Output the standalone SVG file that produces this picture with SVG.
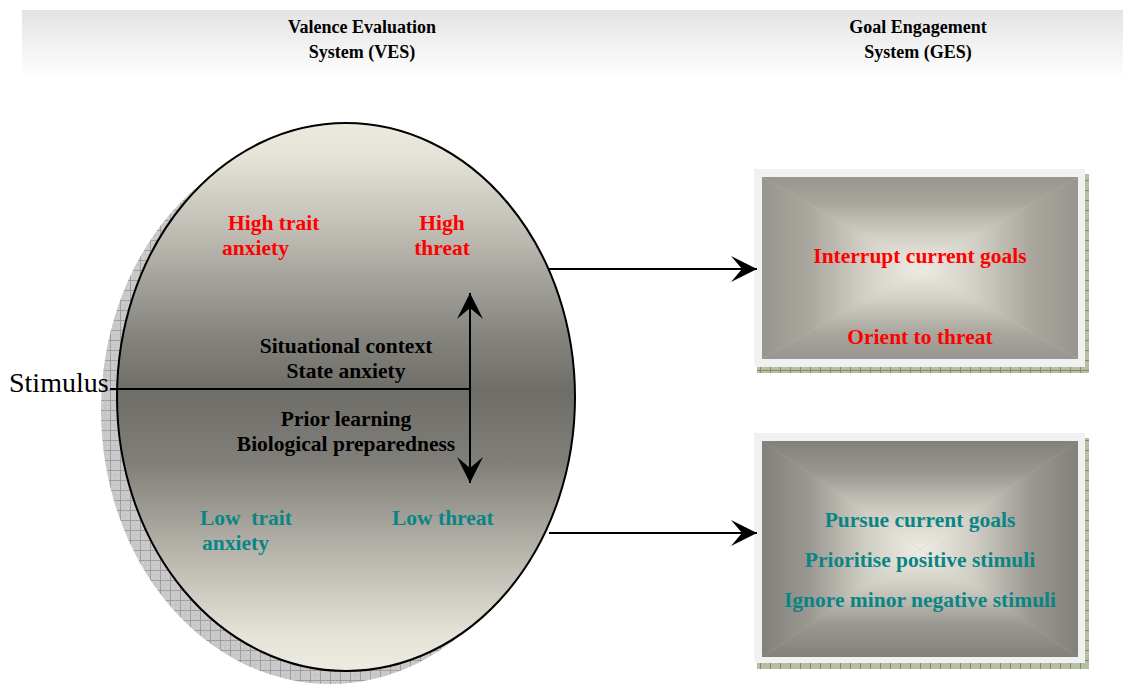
<svg xmlns="http://www.w3.org/2000/svg" width="1123" height="684" viewBox="0 0 1123 684">
<style>
.hdr{font-family:"Liberation Serif","Times New Roman",serif;font-weight:bold;font-size:18px;fill:#000;text-anchor:middle}
.t{font-family:"Liberation Serif","Times New Roman",serif;font-weight:bold;font-size:21.5px}
.red{fill:#ff0000}
.teal{fill:#0a8585}
.blk{fill:#000}
.mid{text-anchor:middle}
.ln{stroke:#000;stroke-width:2;fill:none}
</style>
<defs>
<linearGradient id="band" x1="0" y1="0" x2="0" y2="1">
<stop offset="0" stop-color="#e3e3e3"/>
<stop offset="1" stop-color="#ffffff"/>
</linearGradient>
<linearGradient id="ell" x1="0" y1="0" x2="0" y2="1">
<stop offset="0" stop-color="#eceadf"/>
<stop offset="0.06" stop-color="#e6e4d9"/>
<stop offset="0.23" stop-color="#b5b3aa"/>
<stop offset="0.38" stop-color="#878681"/>
<stop offset="0.49" stop-color="#6e6d68"/>
<stop offset="0.62" stop-color="#807f79"/>
<stop offset="0.77" stop-color="#b2b0a7"/>
<stop offset="0.93" stop-color="#e4e2d7"/>
<stop offset="1" stop-color="#eeece1"/>
</linearGradient>
<pattern id="hatch" width="10" height="10" patternUnits="userSpaceOnUse">
<rect width="10" height="10" fill="#cbcbcb"/>
<path d="M0,0.5H10M0.5,0V10" stroke="#9c9c9c" stroke-width="1"/>
<path d="M5,0V10M0,5H10" stroke="#bdbdbd" stroke-width="0.6"/>
</pattern>
<pattern id="ghatch" width="10" height="10" patternUnits="userSpaceOnUse">
<rect width="10" height="10" fill="#b7bfa2"/>
<path d="M0,0.5H10M0.5,0V10" stroke="#7f8c64" stroke-width="1"/>
</pattern>
<marker id="ah" viewBox="-27 -14 28 28" refX="0" refY="0" markerWidth="28" markerHeight="28" markerUnits="userSpaceOnUse" orient="auto-start-reverse">
<path d="M0,0 L-26,-13 L-15,0 L-26,13 Z" fill="#000"/>
</marker>
<linearGradient id="g1t" gradientUnits="userSpaceOnUse" x1="0" y1="177" x2="0" y2="268">
<stop offset="0" stop-color="#97958d"/><stop offset="0.3" stop-color="#a9a79e"/><stop offset="0.65" stop-color="#d2d0c6"/><stop offset="1" stop-color="#efede3"/>
</linearGradient>
<linearGradient id="g1b" gradientUnits="userSpaceOnUse" x1="0" y1="359" x2="0" y2="268">
<stop offset="0" stop-color="#97958d"/><stop offset="0.3" stop-color="#a9a79e"/><stop offset="0.65" stop-color="#d2d0c6"/><stop offset="1" stop-color="#efede3"/>
</linearGradient>
<linearGradient id="g1l" gradientUnits="userSpaceOnUse" x1="762" y1="0" x2="920" y2="0">
<stop offset="0" stop-color="#97958d"/><stop offset="0.3" stop-color="#a9a79e"/><stop offset="0.65" stop-color="#d2d0c6"/><stop offset="1" stop-color="#efede3"/>
</linearGradient>
<linearGradient id="g1r" gradientUnits="userSpaceOnUse" x1="1078" y1="0" x2="920" y2="0">
<stop offset="0" stop-color="#97958d"/><stop offset="0.3" stop-color="#a9a79e"/><stop offset="0.65" stop-color="#d2d0c6"/><stop offset="1" stop-color="#efede3"/>
</linearGradient>
<linearGradient id="g2t" gradientUnits="userSpaceOnUse" x1="0" y1="441" x2="0" y2="549">
<stop offset="0" stop-color="#81807a"/><stop offset="0.3" stop-color="#9a9891"/><stop offset="0.65" stop-color="#cfcdc3"/><stop offset="1" stop-color="#efede3"/>
</linearGradient>
<linearGradient id="g2b" gradientUnits="userSpaceOnUse" x1="0" y1="657" x2="0" y2="549">
<stop offset="0" stop-color="#81807a"/><stop offset="0.3" stop-color="#9a9891"/><stop offset="0.65" stop-color="#cfcdc3"/><stop offset="1" stop-color="#efede3"/>
</linearGradient>
<linearGradient id="g2l" gradientUnits="userSpaceOnUse" x1="762" y1="0" x2="920" y2="0">
<stop offset="0" stop-color="#81807a"/><stop offset="0.3" stop-color="#9a9891"/><stop offset="0.65" stop-color="#cfcdc3"/><stop offset="1" stop-color="#efede3"/>
</linearGradient>
<linearGradient id="g2r" gradientUnits="userSpaceOnUse" x1="1078" y1="0" x2="920" y2="0">
<stop offset="0" stop-color="#81807a"/><stop offset="0.3" stop-color="#9a9891"/><stop offset="0.65" stop-color="#cfcdc3"/><stop offset="1" stop-color="#efede3"/>
</linearGradient>
</defs>

<rect width="1123" height="684" fill="#ffffff"/>

<g id="header">
<rect x="22" y="10" width="1101" height="68" fill="url(#band)"/>
<text class="hdr" x="362" y="33">Valence Evaluation</text>
<text class="hdr" x="362" y="58">System (VES)</text>
<text class="hdr" x="918" y="33">Goal Engagement</text>
<text class="hdr" x="918" y="58">System (GES)</text>
</g>

<g id="ves">
<ellipse cx="330" cy="410" rx="229" ry="274" fill="url(#hatch)"/>
<ellipse cx="346" cy="397" rx="229" ry="274" fill="url(#ell)" stroke="#000" stroke-width="2"/>
<text class="t red" x="228" y="230">High trait</text>
<text class="t red" x="222" y="255">anxiety</text>
<text class="t red mid" x="442" y="230">High</text>
<text class="t red mid" x="442" y="255">threat</text>
<text class="t blk mid" x="346" y="353">Situational context</text>
<text class="t blk mid" x="346" y="378">State anxiety</text>
<text class="t blk mid" x="346" y="426">Prior learning</text>
<text class="t blk mid" x="346" y="451">Biological preparedness</text>
<text class="t teal" x="200" y="525" xml:space="preserve">Low  trait</text>
<text class="t teal" x="202" y="550">anxiety</text>
<text class="t teal" x="392" y="525">Low threat</text>
</g>

<g id="stimulus">
<text x="9" y="392" font-family="Liberation Serif,'Times New Roman',serif" font-size="28" fill="#000">Stimulus</text>
</g>

<g id="box-threat">
<rect x="757" y="174" width="332" height="199" fill="url(#ghatch)"/>
<rect x="754" y="169" width="331" height="198" fill="#f1f1f1"/>
<rect x="762" y="177" width="316" height="182" fill="#c0beb5"/>
<polygon points="762,177 1078,177 920,268" fill="url(#g1t)"/>
<polygon points="762,359 1078,359 920,268" fill="url(#g1b)"/>
<polygon points="762,177 762,359 920,268" fill="url(#g1l)"/>
<polygon points="1078,177 1078,359 920,268" fill="url(#g1r)"/>
<text class="t red mid" x="920" y="263">Interrupt current goals</text>
<text class="t red mid" x="920" y="344">Orient to threat</text>
</g>

<g id="box-safe">
<rect x="757" y="438" width="332" height="231" fill="url(#ghatch)"/>
<rect x="754" y="433" width="331" height="230" fill="#f1f1f1"/>
<rect x="762" y="441" width="316" height="216" fill="#b8b6ae"/>
<polygon points="762,441 1078,441 920,549" fill="url(#g2t)"/>
<polygon points="762,657 1078,657 920,549" fill="url(#g2b)"/>
<polygon points="762,441 762,657 920,549" fill="url(#g2l)"/>
<polygon points="1078,441 1078,657 920,549" fill="url(#g2r)"/>
<text class="t teal mid" x="920" y="527">Pursue current goals</text>
<text class="t teal mid" x="920" y="567">Prioritise positive stimuli</text>
<text class="t teal mid" x="920" y="607">Ignore minor negative stimuli</text>
</g>

<g id="connectors">
<line class="ln" x1="110" y1="389" x2="471" y2="389"/>
<line class="ln" x1="470" y1="293" x2="470" y2="483" marker-start="url(#ah)" marker-end="url(#ah)"/>
<line class="ln" x1="549" y1="269" x2="757" y2="269" marker-end="url(#ah)"/>
<line class="ln" x1="549" y1="533" x2="757" y2="533" marker-end="url(#ah)"/>
</g>
</svg>
